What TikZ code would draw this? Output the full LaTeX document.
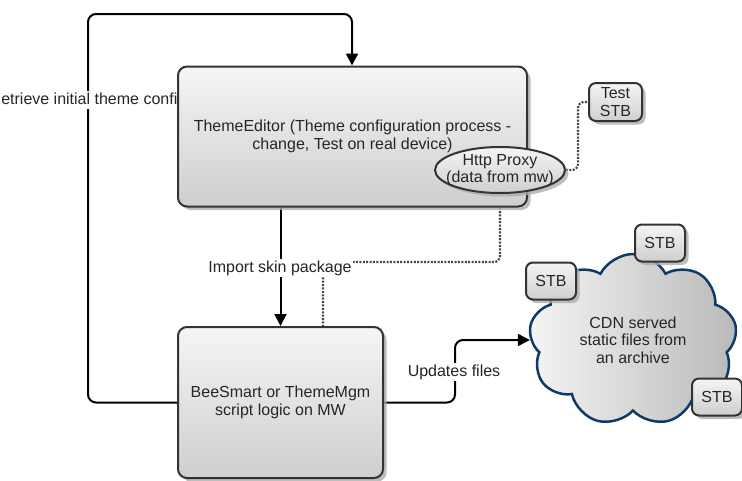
\documentclass[tikz,border=0pt]{standalone}
\usepackage{fontspec}
\setmainfont{Liberation Sans}
\usetikzlibrary{arrows.meta,shapes.geometric,shapes.symbols,shadows}
\tikzset{>={Triangle[width=12pt,length=12pt]}}
\definecolor{boxline}{HTML}{333333}
\definecolor{cloudline}{HTML}{0F3A68}
\definecolor{dotline}{HTML}{444444}
\tikzset{
  shadebox/.style={top color=gray!8,bottom color=gray!38,draw=boxline,line width=2pt,
    drop shadow={shadow xshift=3.5pt,shadow yshift=-3.5pt,fill=gray!65,opacity=.8}},
  procbox/.style={shadebox,rounded corners=9pt,align=center},
  stbbox/.style={shadebox,rounded corners=7pt,align=center,inner sep=1pt,
    minimum width=50pt,minimum height=37pt},
  proxy/.style={shadebox,ellipse,align=center,inner xsep=-12pt,inner ysep=-5pt,
    minimum width=130pt,minimum height=46pt},
  flow/.style={->,line width=2pt,rounded corners=8pt},
  probe/.style={line width=2.2pt,dotline,dash pattern=on 2pt off 1.4pt,rounded corners=6pt},
  lbl/.style={fill=white,inner sep=1.5pt}
}
\pgfdeclarelayer{background}
\pgfsetlayers{background,main}

\begin{document}
\begin{tikzpicture}[x=1pt,y=-1pt,font=\fontsize{16}{17.5}\selectfont,text=black!85]
  \useasboundingbox (0,0) rectangle (742,480);
  % Labels sitting under the boxes
  \node[lbl] (retrieve) at (88,100) {Retrieve initial theme config};
  % Boxes
  \node[procbox,minimum width=349pt,minimum height=140pt] (editor) at (352.5,136.5)
    {ThemeEditor (Theme configuration process -\\change, Test on real device)};
  \node[procbox,minimum width=205pt,minimum height=151pt] (bee) at (280.5,402.5)
    {BeeSmart or ThemeMgm\\script logic on MW};
  \node[proxy] (proxy) at (500,170) {Http Proxy\\(data from mw)};
  \node[stbbox,minimum width=53pt,minimum height=38pt] (test) at (615.5,102) {Test\\STB};
  \node[cloud,cloud puffs=9,cloud puff arc=125,aspect=1.15,minimum width=208pt,
    minimum height=172pt,draw=cloudline,line width=2.5pt,left color=gray!8,right color=gray!55,
    align=center] (cdn) at (633,340) {CDN served\\static files from\\an archive};
  \node[stbbox] (stbTop) at (660,243) {STB};
  \node[stbbox] (stbLeft) at (551,281) {STB};
  \node[stbbox] (stbRight) at (717,397) {STB};
  \node[lbl] (import) at (280,268) {Import skin package};
  \node[lbl] (updates) at (454,372) {Updates files};

  % Lines
  \coordinate (retL) at (88,14);
  \coordinate (retR) at (352,14);
  \coordinate (dotBend) at (323,262);
  \coordinate (updBend) at (455,340);
  \begin{pgfonlayer}{background}
    \draw[flow] (bee.west) -| (retL) -- (retR) -- (retR |- editor.north);
    \draw[flow] (editor.south -| bee.north) -- (bee.north);
    \draw[flow] (bee.east) -| (updBend) -- (cdn.west);
    \draw[probe] (proxy.south) |- (dotBend) -- (dotBend |- bee.north);
    \draw[probe] (proxy.east) -- ++(12,0) |- (test.west);
  \end{pgfonlayer}
\end{tikzpicture}
\end{document}
